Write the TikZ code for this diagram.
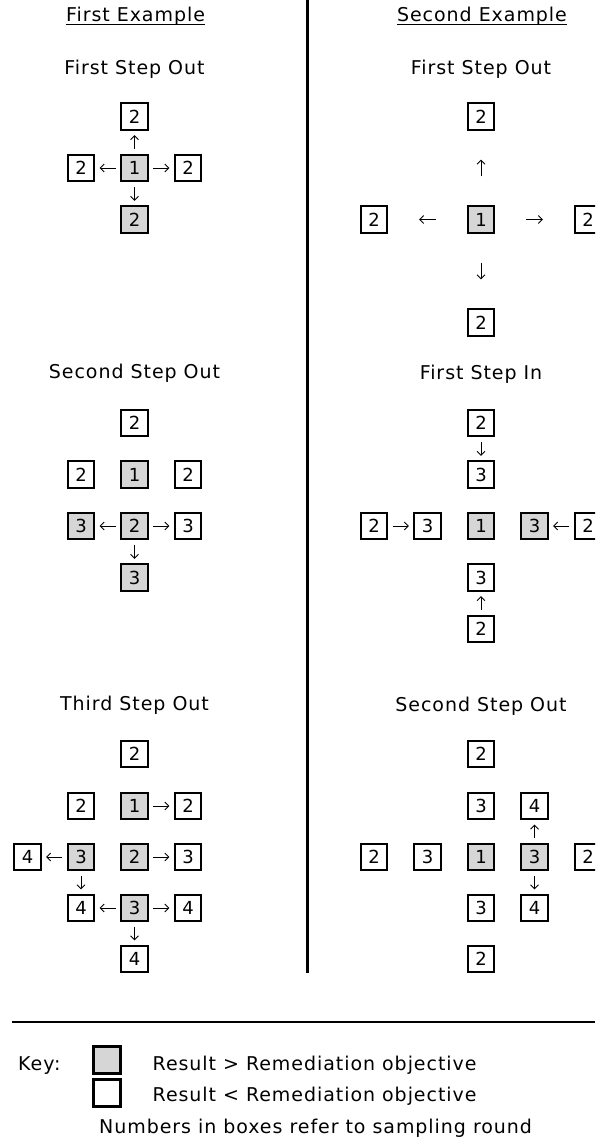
\documentclass[tikz,border=0pt]{standalone}
\usepackage{fontspec}
\setmainfont[LetterSpace=5]{DejaVu Sans}
\newfontfamily\digitfont{DejaVu Sans}
\usetikzlibrary{arrows.meta}
\tikzset{
  cell/.style={draw, line width=1.7pt, minimum size=26.5pt, inner sep=0pt,
    font=\digitfont\fontsize{18}{18}\selectfont, fill=white},
  hit/.style={cell, fill=gray!32},
  keybox/.style={draw, line width=3pt, minimum size=27.5pt, inner sep=0pt},
  arr/.style={line width=0.9pt, -{Straight Barb[length=4pt,width=8pt]},
    shorten <=4.5pt, shorten >=4.5pt},
  farh/.style={arr, shorten <=31pt, shorten >=31pt},
  farv/.style={arr, shorten <=29pt, shorten >=29pt},
  ttl/.style={font=\fontsize{19}{19}\selectfont, inner sep=0pt, anchor=base},
  txt/.style={font=\fontsize{19}{19}\selectfont, inner sep=0pt, anchor=base west},
  uline/.style={line width=1pt},
}
\begin{document}
\begin{tikzpicture}[x=1pt,y=-1pt]
\path[use as bounding box, clip] (0,0) rectangle (595,1139);
\fill[white] (0,0) rectangle (595,1139);

% headings
\node[ttl] (h1) at (135.5,22) {First Example};
\node[ttl] (h2) at (482,22) {Second Example};
\draw[uline] ([yshift=-3pt]h1.base west) -- ([yshift=-3pt]h1.base east);
\draw[uline] ([yshift=-3pt]h2.base west) -- ([yshift=-3pt]h2.base east);

% divider
\draw[line width=3pt] (307,0) -- (307,973);

% ---------------- First example: First Step Out
\node[ttl] (t11) at (134.5,75) {First Step Out};
\node[cell] (a2t) at (134.5,116.5) {2};
\node[cell] (a2l) at (81,168) {2};
\node[hit]  (a1)  at (134.5,168) {1};
\node[cell] (a2r) at (188,168) {2};
\node[hit]  (a2b) at (134.5,219.5) {2};
\draw[arr] (a1) -- (a2t);
\draw[arr] (a1) -- (a2l);
\draw[arr] (a1) -- (a2r);
\draw[arr] (a1) -- (a2b);

% ---------------- First example: Second Step Out
\node[ttl] (t12) at (134.5,378) {Second Step Out};
\node[cell] (b2t) at (134.5,423) {2};
\node[cell] (b2l) at (81,474.5) {2};
\node[hit]  (b1)  at (134.5,474.5) {1};
\node[cell] (b2r) at (188,474.5) {2};
\node[hit]  (b3l) at (81,526) {3};
\node[hit]  (b2c) at (134.5,526) {2};
\node[cell] (b3r) at (188,526) {3};
\node[hit]  (b3b) at (134.5,577.5) {3};
\draw[arr] (b2c) -- (b3l);
\draw[arr] (b2c) -- (b3r);
\draw[arr] (b2c) -- (b3b);

% ---------------- First example: Third Step Out
\node[ttl] (t13) at (134.5,710) {Third Step Out};
\node[cell] (c2t) at (134.5,754) {2};
\node[cell] (c2l) at (81,806) {2};
\node[hit]  (c1)  at (134.5,806) {1};
\node[cell] (c2r) at (188,806) {2};
\node[cell] (c4a) at (27.5,857) {4};
\node[hit]  (c3l) at (81,857) {3};
\node[hit]  (c2c) at (134.5,857) {2};
\node[cell] (c3r) at (188,857) {3};
\node[cell] (c4b) at (81,908) {4};
\node[hit]  (c3c) at (134.5,908) {3};
\node[cell] (c4c) at (188,908) {4};
\node[cell] (c4d) at (134.5,959) {4};
\draw[arr] (c1) -- (c2r);
\draw[arr] (c3l) -- (c4a);
\draw[arr] (c2c) -- (c3r);
\draw[arr] (c3l) -- (c4b);
\draw[arr] (c3c) -- (c4b);
\draw[arr] (c3c) -- (c4c);
\draw[arr] (c3c) -- (c4d);

% ---------------- Second example: First Step Out
\node[ttl] (t21) at (481,75) {First Step Out};
\node[cell] (d2t) at (481,116.5) {2};
\node[cell] (d2l) at (374,219.5) {2};
\node[hit]  (d1)  at (481,219.5) {1};
\node[cell] (d2r) at (588,219.5) {2};
\node[cell] (d2b) at (481,322.5) {2};
\draw[farv] (d1) -- (d2t);
\draw[farh] (d1) -- (d2l);
\draw[farh] (d1) -- (d2r);
\draw[farv] (d1) -- (d2b);

% ---------------- Second example: First Step In
\node[ttl] (t22) at (481,379) {First Step In};
\node[cell] (e2t) at (481,423) {2};
\node[cell] (e3t) at (481,474.5) {3};
\node[cell] (e2l) at (374,526) {2};
\node[cell] (e3l) at (427.5,526) {3};
\node[hit]  (e1)  at (481,526) {1};
\node[hit]  (e3r) at (534.5,526) {3};
\node[cell] (e2r) at (588,526) {2};
\node[cell] (e3b) at (481,577.5) {3};
\node[cell] (e2b) at (481,629) {2};
\draw[arr] (e2t) -- (e3t);
\draw[arr] (e2l) -- (e3l);
\draw[arr] (e2r) -- (e3r);
\draw[arr] (e2b) -- (e3b);

% ---------------- Second example: Second Step Out
\node[ttl] (t23) at (481,711) {Second Step Out};
\node[cell] (f2t) at (481,754) {2};
\node[cell] (f3t) at (481,806) {3};
\node[cell] (f4t) at (534.5,806) {4};
\node[cell] (f2l) at (374,857) {2};
\node[cell] (f3l) at (427.5,857) {3};
\node[hit]  (f1)  at (481,857) {1};
\node[hit]  (f3r) at (534.5,857) {3};
\node[cell] (f2r) at (588,857) {2};
\node[cell] (f3b) at (481,908) {3};
\node[cell] (f4b) at (534.5,908) {4};
\node[cell] (f2b) at (481,959) {2};
\draw[arr] (f3r) -- (f4t);
\draw[arr] (f3r) -- (f4b);

% ---------------- Key
\draw[line width=2pt] (12,1021.5) -- (595,1021.5);
\node[txt] (kk) at (18,1070) {Key:};
\node[keybox, fill=gray!32] (kg) at (107,1060) {};
\node[keybox, fill=white] (kw) at (107,1093) {};
\node[txt] (kt1) at (152.5,1070) {Result > Remediation objective};
\node[txt] (kt2) at (152.5,1101.5) {Result < Remediation objective};
\node[txt] (kt3) at (99,1133) {Numbers in boxes refer to sampling round};
\end{tikzpicture}
\end{document}
